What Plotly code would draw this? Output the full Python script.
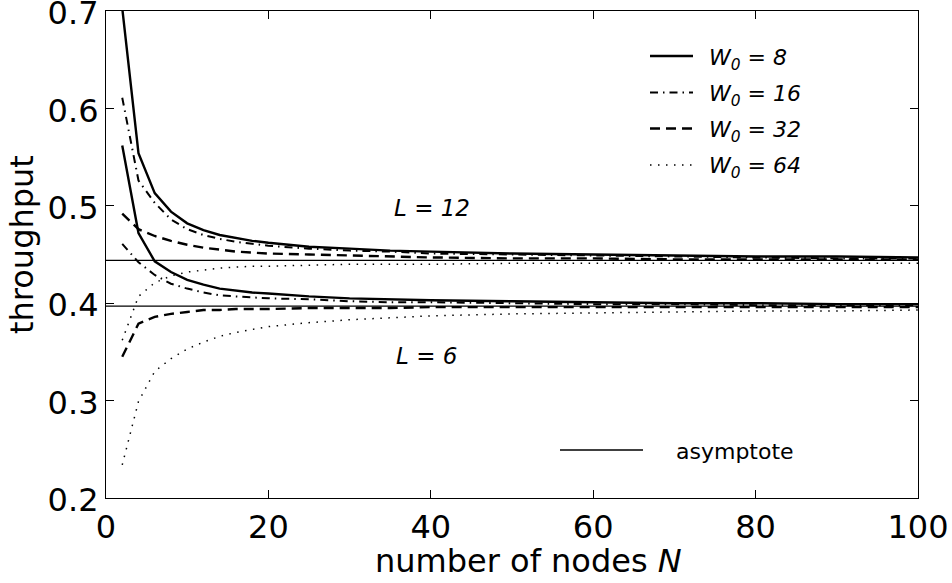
import plotly.graph_objects as go

# ---------------- data ----------------
N = [2, 4, 6, 8, 10, 12, 14, 16, 18, 20, 25, 30, 35, 40, 50, 60, 70, 80, 90, 100]

# L = 12
L12_W8  = [0.703, 0.554, 0.513, 0.494, 0.482, 0.475, 0.470, 0.467, 0.464, 0.462, 0.458, 0.456, 0.454, 0.453, 0.451, 0.450, 0.449, 0.448, 0.448, 0.447]
L12_W16 = [0.611, 0.526, 0.503, 0.486, 0.476, 0.470, 0.466, 0.463, 0.461, 0.459, 0.456, 0.454, 0.453, 0.451, 0.450, 0.449, 0.448, 0.447, 0.446, 0.446]
L12_W32 = [0.492, 0.476, 0.469, 0.464, 0.460, 0.457, 0.455, 0.453, 0.452, 0.451, 0.450, 0.449, 0.448, 0.447, 0.446, 0.446, 0.445, 0.445, 0.445, 0.445]
L12_W64 = [0.362, 0.407, 0.421, 0.428, 0.432, 0.434, 0.436, 0.437, 0.438, 0.438, 0.439, 0.440, 0.440, 0.440, 0.441, 0.441, 0.441, 0.441, 0.441, 0.441]

# L = 6
L6_W8  = [0.562, 0.472, 0.443, 0.432, 0.424, 0.419, 0.415, 0.413, 0.411, 0.410, 0.407, 0.405, 0.404, 0.403, 0.402, 0.401, 0.400, 0.400, 0.399, 0.399]
L6_W16 = [0.461, 0.442, 0.429, 0.420, 0.415, 0.411, 0.408, 0.407, 0.406, 0.405, 0.404, 0.402, 0.401, 0.401, 0.400, 0.399, 0.399, 0.398, 0.398, 0.398]
L6_W32 = [0.345, 0.379, 0.386, 0.389, 0.391, 0.393, 0.393, 0.394, 0.394, 0.394, 0.395, 0.395, 0.395, 0.396, 0.396, 0.396, 0.396, 0.396, 0.396, 0.396]
L6_W64 = [0.234, 0.299, 0.330, 0.343, 0.353, 0.360, 0.366, 0.370, 0.373, 0.376, 0.380, 0.383, 0.385, 0.387, 0.389, 0.390, 0.391, 0.392, 0.392, 0.393]

ASYMPTOTE_X = [0, 100]
ASYMPTOTE_L12 = 0.444
ASYMPTOTE_L6 = 0.397

W_LABELS = ["8", "16", "32", "64"]
X_TICKS = [0, 20, 40, 60, 80, 100]
Y_TICKS = [0.2, 0.3, 0.4, 0.5, 0.6, 0.7]

# ---------------- styles ----------------
FONT = "DejaVu Sans, Liberation Sans, Arial, sans-serif"
styles = [
    dict(width=2.4, dash="solid"),
    dict(width=2.0, dash="8px,5px,1.5px,5px"),
    dict(width=2.4, dash="10px,6px"),
    dict(width=1.5, dash="1.5px,6.5px"),
]

fig = go.Figure()

series = [(L12_W8, L6_W8), (L12_W16, L6_W16), (L12_W32, L6_W32), (L12_W64, L6_W64)]
for (s12, s6), st in zip(series, styles):
    for s in (s12, s6):
        fig.add_trace(go.Scatter(x=N, y=s, mode="lines",
                                 line=dict(color="black", width=st["width"], dash=st["dash"]),
                                 showlegend=False, hoverinfo="skip"))

for a in (ASYMPTOTE_L12, ASYMPTOTE_L6):
    fig.add_trace(go.Scatter(x=ASYMPTOTE_X, y=[a, a], mode="lines",
                             line=dict(color="black", width=1.1),
                             showlegend=False, hoverinfo="skip"))

# ---------------- geometry (pixels) ----------------
W, H = 952, 583
PL, PR, PT, PB = 106, 918, 11, 498
pw, ph = PR - PL, PB - PT


def px(xp):
    return (xp - PL) / pw


def py(yp):
    return (PB - yp) / ph


shapes = []
annotations = []

# legend for W0
leg_rows = [56, 92.5, 128.5, 165]
for i, (lab, st) in enumerate(zip(W_LABELS, styles)):
    yy = py(leg_rows[i])
    shapes.append(dict(type="line", xref="paper", yref="paper",
                       x0=px(650), x1=px(693), y0=yy, y1=yy,
                       line=dict(color="black", width=st["width"], dash=st["dash"])))
    annotations.append(dict(xref="paper", yref="paper", x=px(707), y=py(leg_rows[i] + 3),
                            xanchor="left", yanchor="middle", showarrow=False,
                            text="<i>W</i><sub><i>0</i></sub><i> = " + lab + "</i>",
                            font=dict(family=FONT, size=22, color="black")))

# asymptote legend
ya = py(450)
shapes.append(dict(type="line", xref="paper", yref="paper",
                   x0=px(560), x1=px(643), y0=ya, y1=ya,
                   line=dict(color="black", width=1.6)))
annotations.append(dict(xref="paper", yref="paper", x=px(674), y=py(451),
                        xanchor="left", yanchor="middle", showarrow=False,
                        text="asymptote", font=dict(family=FONT, size=22, color="black")))

# L labels
annotations.append(dict(x=40.2, y=0.498, xref="x", yref="y", showarrow=False,
                        text="<i>L = 12</i>", font=dict(family=FONT, size=23, color="black")))
annotations.append(dict(x=39.5, y=0.346, xref="x", yref="y", showarrow=False,
                        text="<i>L = 6</i>", font=dict(family=FONT, size=23, color="black")))

# axis titles
annotations.append(dict(xref="paper", yref="paper", x=px(528), y=py(561),
                        xanchor="center", yanchor="middle", showarrow=False,
                        text="number of nodes <i>N</i>",
                        font=dict(family=FONT, size=32, color="black")))
annotations.append(dict(xref="paper", yref="paper", x=px(22), y=py(245),
                        xanchor="center", yanchor="middle", showarrow=False, textangle=-90,
                        text="throughput",
                        font=dict(family=FONT, size=32, color="black")))

axis_common = dict(showgrid=False, zeroline=False, showline=True, linecolor="black",
                   linewidth=1.2, mirror="ticks", ticks="inside", ticklen=8,
                   tickcolor="black", tickwidth=1.2, ticklabeloverflow="allow",
                   automargin=False,
                   tickfont=dict(family=FONT, size=32, color="black"))

fig.update_layout(
    width=W, height=H,
    margin=dict(l=PL, r=W - PR, t=PT, b=H - PB, autoexpand=False),
    plot_bgcolor="white", paper_bgcolor="white",
    showlegend=False,
    xaxis=dict(range=[0, 100], tickvals=X_TICKS, ticktext=[str(v) for v in X_TICKS],
               **axis_common),
    yaxis=dict(range=[0.2, 0.7], tickvals=Y_TICKS, ticktext=[f"{v:.1f}" for v in Y_TICKS],
               ticklabelshift=2, **axis_common),
    shapes=shapes,
    annotations=annotations,
)

fig.write_html("out.html",
               config={"displayModeBar": False},
               post_script="document.body.style.margin='0';document.body.style.overflow='hidden';")
